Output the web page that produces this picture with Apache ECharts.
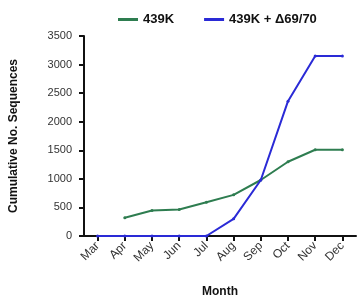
<!DOCTYPE html>
<html>
<head>
<meta charset="utf-8">
<script src="https://cdn.jsdelivr.net/npm/echarts@6/dist/echarts.min.js"></script>
<style>
  html, body { margin: 0; padding: 0; background: #fff; }
  #chart { width: 357px; height: 303px; }
</style>
</head>
<body>
<div id="chart"></div>
<script>
var months = ['Mar', 'Apr', 'May', 'Jun', 'Jul', 'Aug', 'Sep', 'Oct', 'Nov', 'Dec'];
var k439 = [null, 320, 445, 465, 590, 720, 980, 1300, 1510, 1510];
var k439del = [0, 0, 0, 0, 0, 300, 980, 2360, 3150, 3150];

var chart = echarts.init(document.getElementById('chart'));
var axisLine = { show: true, lineStyle: { color: '#111', width: 2 } };
chart.setOption({
  animation: false,
  textStyle: { fontFamily: 'Liberation Sans' },
  legend: {
    top: 8,
    left: 113,
    itemWidth: 20,
    itemHeight: 3,
    itemGap: 30,
    icon: 'rect',
    textStyle: { fontSize: 13, fontWeight: 'bold', color: '#111' },
    data: ['439K', '439K + \u039469/70']
  },
  grid: { left: 81, right: 1, top: 36, bottom: 66 },
  xAxis: {
    type: 'category',
    data: months,
    boundaryGap: true,
    name: 'Month',
    nameLocation: 'middle',
    nameGap: 50,
    nameTextStyle: { fontSize: 12, fontWeight: 'bold', color: '#111' },
    axisLine: axisLine,
    axisTick: { show: true, alignWithLabel: true, length: 5, lineStyle: { color: '#111', width: 2 } },
    axisLabel: { rotate: 45, fontSize: 12, color: '#333', margin: 8 }
  },
  yAxis: {
    type: 'value',
    min: 0,
    max: 3500,
    interval: 500,
    name: 'Cumulative No. Sequences',
    nameLocation: 'middle',
    nameGap: 64,
    nameTextStyle: { fontSize: 12, fontWeight: 'bold', color: '#111' },
    axisLine: axisLine,
    axisTick: { show: true, length: 5, lineStyle: { color: '#111', width: 2 } },
    axisLabel: { fontSize: 11, color: '#333', margin: 12, formatter: function (v) { return String(v); } },
    splitLine: { show: false }
  },
  series: [
    {
      name: '439K',
      type: 'line',
      data: k439,
      color: '#2e7d50',
      symbol: 'circle',
      symbolSize: 3,
      lineStyle: { width: 2 },
      z: 2
    },
    {
      name: '439K + \u039469/70',
      type: 'line',
      data: k439del,
      color: '#2a2ad6',
      symbol: 'circle',
      symbolSize: 3,
      lineStyle: { width: 2 },
      z: 3
    }
  ]
});
</script>
</body>
</html>
